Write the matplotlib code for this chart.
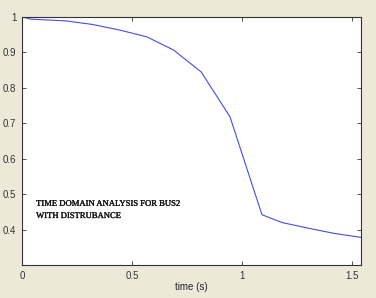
import matplotlib
matplotlib.use("Agg")
import matplotlib.pyplot as plt
import matplotlib.patheffects as pe

t = [0, 0.04, 0.2, 0.32, 0.445, 0.567, 0.688, 0.814, 0.945, 1.09, 1.18, 1.3, 1.42, 1.54]
v = [1.0, 0.994, 0.989, 0.979, 0.963, 0.944, 0.907, 0.845, 0.718, 0.442, 0.42, 0.404, 0.389, 0.378]
xticks = [0, 0.5, 1, 1.5]
yticks = [0.4, 0.5, 0.6, 0.7, 0.8, 0.9, 1.0]
xtick_labels = ["0", "0.5", "1", "1.5"]
ytick_labels = ["0.4", "0.5", "0.6", "0.7", "0.8", "0.9", "1"]
annotation = "TIME DOMAIN ANALYSIS FOR BUS2\nWITH DISTRUBANCE"

fig = plt.figure(figsize=(3.76, 2.98), dpi=100, facecolor="#ECE9D8")
ax = fig.add_axes([22/376, 1-265/298, (361-22)/376, (265-17)/298])
ax.set_facecolor("white")
ax.plot(t, v, color="#4a4ae6", linewidth=0.8)
ax.set_xlim(0, 1.54)
ax.set_ylim(0.3, 1.0)
ax.set_xticks(xticks)
ax.set_xticklabels(xtick_labels)
ax.set_yticks(yticks)
ax.set_yticklabels(ytick_labels)
ax.tick_params(direction="in", length=3, width=0.6, top=True, right=True,
               labelsize=7, colors="#333333", pad=4)
for lbl in ax.get_xticklabels() + ax.get_yticklabels():
    lbl.set_family("Liberation Sans")
for s in ax.spines.values():
    s.set_linewidth(0.8)
    s.set_color("#333333")
ax.set_xlabel("time (s)", fontsize=7, family="Liberation Sans", color="#222222", labelpad=1)
ax.text(0.064, 0.484, annotation, fontsize=6.2, family="Liberation Serif", color="#111111",
        va="top", ha="left", linespacing=1.7, transform=ax.transData,
        path_effects=[pe.withStroke(linewidth=0.2, foreground="#111111")])
fig.savefig("out.png", dpi=100, facecolor=fig.get_facecolor())
